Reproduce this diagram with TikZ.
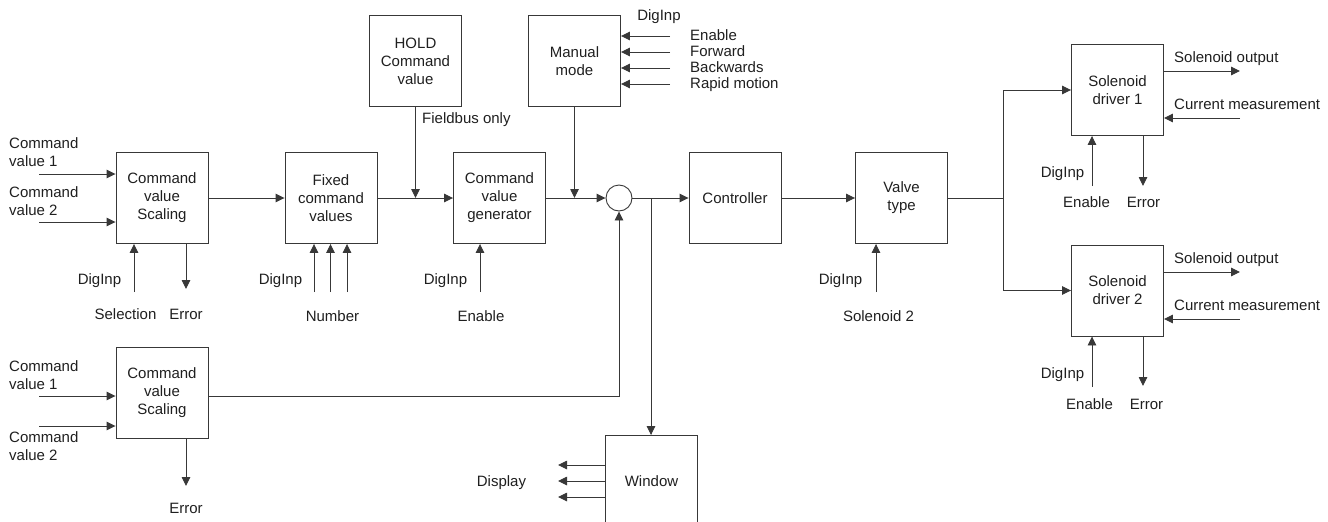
\documentclass[tikz,border=0pt]{standalone}
\usepackage{fontspec}
\setmainfont{Liberation Sans}
\usetikzlibrary{arrows.meta,calc}
\definecolor{lc}{gray}{0.22}
\definecolor{tc}{gray}{0.12}
\begin{document}
\begin{tikzpicture}[x=1pt,y=-1pt,font=\fontsize{15}{18}\selectfont,
  blk/.style={draw=lc,line width=0.9pt,minimum width=92pt,minimum height=91pt,inner sep=0pt,align=center,text=tc},
  arr/.style={draw=lc,line width=0.9pt,-{Triangle[length=9pt,width=8.5pt]}},
  ln/.style={draw=lc,line width=0.9pt},
  lb/.style={inner sep=0pt,text=tc,text height=10.7pt,text depth=0pt},
  ml/.style={inner sep=0pt,text=tc,align=left}]
\useasboundingbox (0,0) rectangle (1328,522);
\clip (0,0) rectangle (1328,522);
% blocks
\node[blk] (cvs1) at (162,198) {Command\\value\\Scaling};
\node[blk] (fix) at (331,198) {Fixed\\command\\values};
\node[blk] (hold) at (415.5,61) {HOLD\\Command\\value};
\node[blk] (cvg) at (499.5,198) {Command\\value\\generator};
\node[blk] (man) at (574.5,61) {Manual\\mode};
\node[draw=lc,line width=0.9pt,circle,minimum size=26pt,inner sep=0pt] (sum) at (619,198) {};
\node[blk] (ctrl) at (735,198) {Controller};
\node[blk] (valve) at (901.5,198) {Valve\\type};
\node[blk] (sol1) at (1117.5,90) {Solenoid\\driver 1};
\node[blk] (sol2) at (1117.5,290.5) {Solenoid\\driver 2};
\node[blk] (cvs2) at (162,392.5) {Command\\value\\Scaling};
\node[blk] (win) at (651.5,481) {Window};
% CVS1
\coordinate (a1) at (39,174);
\coordinate (a2) at (39,222);
\draw[arr] (a1) -- (a1 -| cvs1.west);
\draw[arr] (a2) -- (a2 -| cvs1.west);
\node[ml,anchor=west] (la1) at (9,152.5) {Command\\value 1};
\node[ml,anchor=west] (la2) at (9,201) {Command\\value 2};
\coordinate (d1) at (134,292);
\coordinate (e1) at (186,289);
\draw[arr] (d1) -- (d1 |- cvs1.south);
\draw[arr] (e1 |- cvs1.south) -- (e1);
\node[lb] (ld1) at (99.5,279) {DigInp};
\node[lb] (ls1) at (125.5,314) {Selection};
\node[lb] (le1) at (186,314) {Error};
\draw[arr] (cvs1.east) -- (fix.west);
% Fixed
\coordinate (f1) at (314,292);
\coordinate (f2) at (330.5,292);
\coordinate (f3) at (347,292);
\draw[arr] (f1) -- (f1 |- fix.south);
\draw[arr] (f2) -- (f2 |- fix.south);
\draw[arr] (f3) -- (f3 |- fix.south);
\node[lb] (ld2) at (280.5,279) {DigInp};
\node[lb] (ln2) at (332.5,316) {Number};
\draw[arr] (fix.east) -- (cvg.west);
% HOLD
\coordinate (j1) at (hold.south |- fix.east);
\draw[arr] (hold.south) -- (j1);
\node[lb,anchor=west] (lfb) at (422,118) {Fieldbus only};
% CVG
\coordinate (g1) at (480,292);
\draw[arr] (g1) -- (g1 |- cvg.south);
\node[lb] (ld3) at (445.5,279) {DigInp};
\node[lb] (len3) at (481,316) {Enable};
\draw[arr] (cvg.east) -- (sum.west);
% Manual mode
\coordinate (j2) at (man.south |- cvg.east);
\draw[arr] (man.south) -- (j2);
\coordinate (m1) at (670,36);
\coordinate (m2) at (670,52);
\coordinate (m3) at (670,68);
\coordinate (m4) at (670,84);
\draw[arr] (m1) -- (m1 -| man.east);
\draw[arr] (m2) -- (m2 -| man.east);
\draw[arr] (m3) -- (m3 -| man.east);
\draw[arr] (m4) -- (m4 -| man.east);
\node[lb] (ldm) at (659,15) {DigInp};
\node[lb,anchor=west] (lm1) at (690,35) {Enable};
\node[lb,anchor=west] (lm2) at (690,51) {Forward};
\node[lb,anchor=west] (lm3) at (690,67) {Backwards};
\node[lb,anchor=west] (lm4) at (690,83) {Rapid motion};
% summing point
\draw[arr] (sum.east) -- (ctrl.west);
\coordinate (j3) at (651,198);
\draw[arr] (j3) -- (j3 |- win.north);
\draw[arr] ($(cvs2.east)+(0,3.5)$) -| (sum.south);
% Window
\coordinate (w1) at (558,465);
\coordinate (w2) at (558,481);
\coordinate (w3) at (558,497);
\draw[arr] (w1 -| win.west) -- (w1);
\draw[arr] (w2 -| win.west) -- (w2);
\draw[arr] (w3 -| win.west) -- (w3);
\node[lb] (ldis) at (501.5,481) {Display};
% Controller -> Valve
\draw[arr] (ctrl.east) -- (valve.west);
\coordinate (v1) at (876,292);
\draw[arr] (v1) -- (v1 |- valve.south);
\node[lb] (ld4) at (840.5,279) {DigInp};
\node[lb] (lsol2) at (878.5,316) {Solenoid 2};
% branch
\coordinate (br) at (1003,198);
\draw[ln] (valve.east) -- (br);
\draw[arr] (br) |- (sol1.west);
\draw[arr] (br) |- (sol2.west);
% Solenoid driver 1
\coordinate (so1) at (1240,71);
\coordinate (cm1) at (1240,118);
\draw[arr] (so1 -| sol1.east) -- (so1);
\draw[arr] (cm1) -- (cm1 -| sol1.east);
\node[lb,anchor=west] (lso1) at (1174,57) {Solenoid output};
\node[lb,anchor=west] (lcm1) at (1174,104) {Current measurement};
\coordinate (s1d) at (1092,186);
\coordinate (s1e) at (1143,186);
\draw[arr] (s1d) -- (s1d |- sol1.south);
\draw[arr] (s1e |- sol1.south) -- (s1e);
\node[lb] (ld5) at (1062.5,172) {DigInp};
\node[lb] (len5) at (1086.5,202) {Enable};
\node[lb] (le5) at (1143.5,202) {Error};
% Solenoid driver 2
\coordinate (so2) at (1240,272);
\coordinate (cm2) at (1240,319);
\draw[arr] (so2 -| sol2.east) -- (so2);
\draw[arr] (cm2) -- (cm2 -| sol2.east);
\node[lb,anchor=west] (lso2) at (1174,258) {Solenoid output};
\node[lb,anchor=west] (lcm2) at (1174,305) {Current measurement};
\coordinate (s2d) at (1092,387);
\coordinate (s2e) at (1143,386);
\draw[arr] (s2d) -- (s2d |- sol2.south);
\draw[arr] (s2e |- sol2.south) -- (s2e);
\node[lb] (ld6) at (1062.5,373) {DigInp};
\node[lb] (len6) at (1089.5,404) {Enable};
\node[lb] (le6) at (1146.5,404) {Error};
% CVS2
\coordinate (b1) at (39,396);
\coordinate (b2) at (39,426);
\draw[arr] (b1) -- (b1 -| cvs2.west);
\draw[arr] (b2) -- (b2 -| cvs2.west);
\node[ml,anchor=west] (lb1) at (9,375) {Command\\value 1};
\node[ml,anchor=west] (lb2) at (9,446.5) {Command\\value 2};
\coordinate (e2) at (186,486);
\draw[arr] (e2 |- cvs2.south) -- (e2);
\node[lb] (le2) at (186,508) {Error};
\end{tikzpicture}
\end{document}
